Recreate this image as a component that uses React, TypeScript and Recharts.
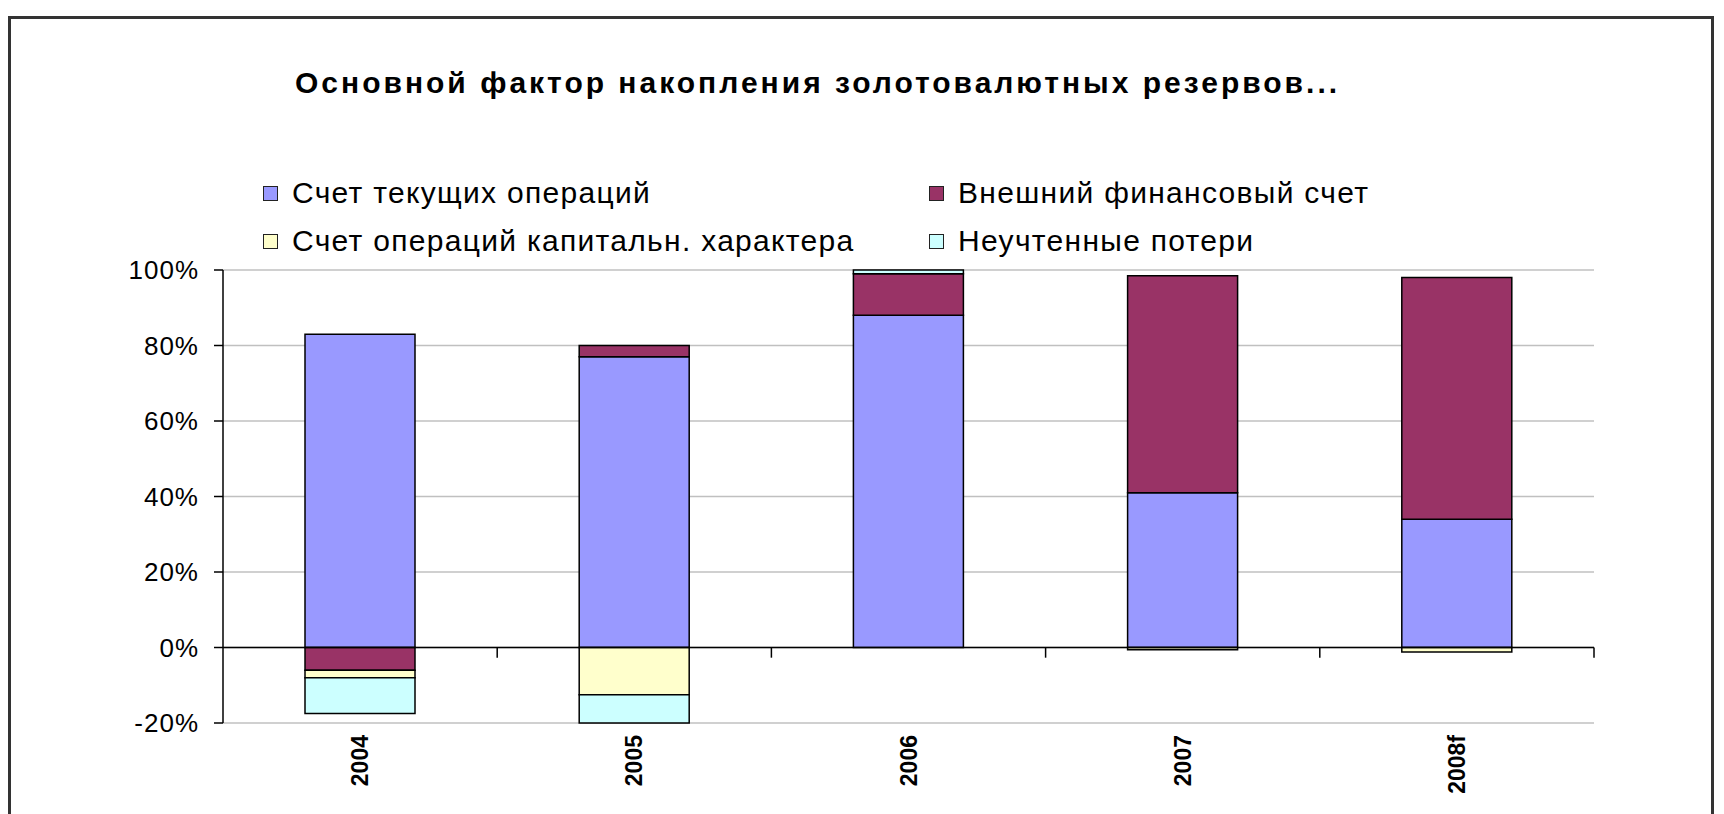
import {
  BarChart,
  Bar,
  XAxis,
  YAxis,
  CartesianGrid,
  ReferenceLine,
} from "recharts";

const years = ["2004", "2005", "2006", "2007", "2008f"];
const currentAccount = [83, 77, 88, 41, 34];
const financialAccount = [-6, 3, 11, 57.5, 64];
const capitalAccount = [-2, -12.5, 0, -0.6, -1.2];
const unaccounted = [-9.5, -7.5, 1, 0, 0];
const yTicks = [-20, 0, 20, 40, 60, 80, 100];

const series = [
  { key: "current", name: "Счет текущих операций", color: "#9999FF" },
  { key: "financial", name: "Внешний финансовый счет", color: "#993366" },
  { key: "capital", name: "Счет операций капитальн. характера", color: "#FFFFCC" },
  { key: "lost", name: "Неучтенные потери", color: "#CCFFFF" },
];

const data = years.map((year, i) => ({
  year,
  current: currentAccount[i],
  financial: financialAccount[i],
  capital: capitalAccount[i],
  lost: unaccounted[i],
}));

// legend: two rows, two columns
const legendPos = [
  { s: series[0], left: 263, top: 193 },
  { s: series[1], left: 929, top: 193 },
  { s: series[2], left: 263, top: 241 },
  { s: series[3], left: 929, top: 241 },
];

const font = "'Liberation Sans', Arial, sans-serif";

function YearTick(props: any) {
  const { x, y, payload } = props;
  return (
    <text
      x={0}
      y={0}
      transform={`translate(${x + 8},${y + 12}) rotate(-90)`}
      textAnchor="end"
      fontFamily={font}
      fontWeight="bold"
      fontSize={23}
      fill="#000"
    >
      {payload.value}
    </text>
  );
}

export default function App() {
  return (
    <div
      style={{
        position: "absolute",
        left: 0,
        top: 0,
        width: 1724,
        height: 814,
        background: "#fff",
        overflow: "hidden",
        fontFamily: font,
      }}
    >
      <div
        style={{
          position: "absolute",
          left: 8,
          top: 16,
          width: 1706,
          height: 900,
          border: "3px solid #333",
          boxSizing: "border-box",
        }}
      />
      <div
        style={{
          position: "absolute",
          left: 295,
          top: 67,
          fontSize: 30,
          fontWeight: "bold",
          lineHeight: "32px",
          letterSpacing: 3,
          color: "#000",
          whiteSpace: "nowrap",
        }}
      >
        Основной фактор накопления золотовалютных резервов...
      </div>
      {legendPos.map(({ s, left, top }) => (
        <div
          key={s.key}
          style={{
            position: "absolute",
            left,
            top: top - 17,
            height: 34,
            display: "flex",
            alignItems: "center",
            whiteSpace: "nowrap",
          }}
        >
          <span
            style={{
              width: 15,
              height: 15,
              background: s.color,
              border: "1.5px solid #222",
              boxSizing: "border-box",
              marginRight: 14,
            }}
          />
          <span style={{ fontSize: 30, letterSpacing: 1.3, color: "#000" }}>{s.name}</span>
        </div>
      ))}
      <div style={{ position: "absolute", left: 0, top: 0 }}>
        <BarChart
          width={1724}
          height={814}
          data={data}
          stackOffset="sign"
          margin={{ top: 270, right: 130, bottom: 11, left: 123 }}
        >
          <CartesianGrid vertical={false} stroke="#c0c0c0" strokeWidth={1.5} />
          <XAxis
            dataKey="year"
            axisLine={false}
            tickLine={false}
            tickSize={0}
            tickMargin={0}
            height={80}
            interval={0}
            tick={<YearTick />}
          />
          <YAxis
            domain={[-20, 100]}
            ticks={yTicks}
            interval={0}
            width={100}
            tickFormatter={(v: number) => `${v}%`}
            axisLine={{ stroke: "#000", strokeWidth: 1.5 }}
            tickLine={{ stroke: "#000", strokeWidth: 1.5 }}
            tickSize={9}
            tickMargin={15}
            tick={{ fill: "#000", fontSize: 26, fontFamily: font, letterSpacing: 1 }}
          />
          {series.map((s) => (
            <Bar
              key={s.key}
              dataKey={s.key}
              name={s.name}
              stackId="a"
              fill={s.color}
              stroke="#000"
              strokeWidth={1.5}
              barSize={110}
              isAnimationActive={false}
            />
          ))}
          <ReferenceLine y={0} stroke="#000" strokeWidth={1.5} />
          {years.map((yr) => (
            <ReferenceLine
              key={yr}
              position="end"
              segment={[
                { x: yr, y: 0 },
                { x: yr, y: -2.7 },
              ]}
              stroke="#000"
              strokeWidth={1.5}
            />
          ))}
        </BarChart>
      </div>
    </div>
  );
}
